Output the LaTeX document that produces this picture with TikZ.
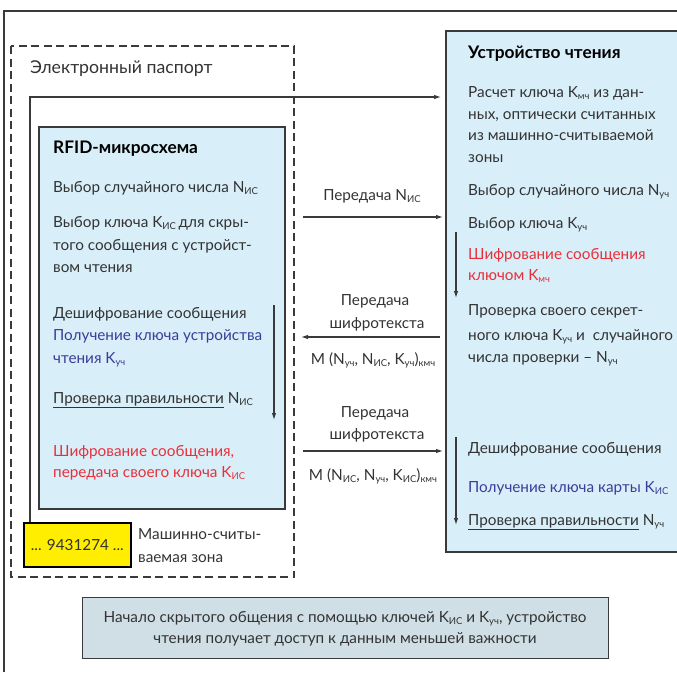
\documentclass[tikz,border=0pt]{standalone}
\usepackage{fontspec}
\setmainfont{Lato}
\usetikzlibrary{arrows.meta}
\definecolor{txt}{HTML}{333333}
\definecolor{frm}{HTML}{3A3A3A}
\definecolor{redt}{HTML}{E8303A}
\definecolor{bluet}{HTML}{3A3D9A}
\definecolor{boxblue}{HTML}{D8EEF8}
\definecolor{boxgray}{HTML}{CFDFE5}
\definecolor{yel}{HTML}{FFEE00}
\newcommand{\lw}[1]{\raisebox{-0.3ex}{\fontsize{9.5}{9.5}\selectfont #1}}
\begin{document}
\begin{tikzpicture}[x=1pt,y=-1pt,
  font=\fontsize{15.3}{17}\selectfont,
  lbl/.style={anchor=base west, inner sep=0pt, text=txt},
  ctr/.style={anchor=base, inner sep=0pt, text=txt},
  ttl/.style={anchor=base west, inner sep=0pt, text=black, font=\fontsize{17.3}{19}\selectfont\bfseries},
  arr/.style={-{Latex[length=7pt,width=4.5pt]}, line width=1.1pt, draw=frm},
  panel/.style={draw=frm, line width=1.4pt}]
\useasboundingbox (0,0) rectangle (677,672);
% outer frame lines
\coordinate (fa) at (4,672);
\coordinate (fb) at (4,11);
\coordinate (fc) at (677,11);
\draw[frm, line width=1.3pt] (fa) -- (fb) -- (fc);
% dashed passport
\draw[frm, line width=2.6pt, dash pattern=on 8pt off 4.5pt] (11,46) rectangle (294,577);
\node[lbl, font=\fontsize{17.7}{19}\selectfont] (pass) at (30,73) {Электронный паспорт};
% RFID box
\draw[panel, fill=boxblue] (39,127) rectangle (285,509);
% reader box
\draw[panel, fill=boxblue] (446,31) rectangle (690,552);
% yellow MRZ
\node[draw=black, line width=1.6pt, fill=yel, minimum width=107pt, minimum height=44pt, anchor=north west, inner sep=0pt, text=txt] (mrz) at (23,522) {\raisebox{-1pt}{... 9431274 ...}};
\node[lbl] (mrzl1) at (138,539) {Машинно-считы-};
\node[lbl] (mrzl2) at (138,562) {ваемая зона};
% long optical arrow
\coordinate (optA) at (30,522);
\coordinate (optB) at (441,97);
\draw[arr] (optA) |- (optB);
% RFID texts
\node[ttl] (rt) at (53,153) {RFID-микросхема};
\node[lbl] (r1) at (53,192) {Выбор случайного числа N\lw{ИС}};
\node[lbl] (r2) at (53,227) {Выбор ключа K\lw{ИС}\,для скры-};
\node[lbl] (r3) at (53,250) {того сообщения с устройст-};
\node[lbl] (r4) at (53,272) {вом чтения};
\node[lbl] (r5) at (53,318) {Дешифрование сообщения};
\node[lbl, text=bluet] (r6) at (53,340) {Получение ключа устройства};
\node[lbl, text=bluet] (r7) at (53,363) {чтения K\lw{уч}};
\node[lbl] (r8) at (53,403) {\underline{Проверка правильности} N\lw{ИС}};
\node[lbl, text=redt] (r9) at (53,456) {Шифрование сообщения,};
\node[lbl, text=redt] (r10) at (53,477) {передача своего ключа K\lw{ИС}};
% reader texts
\node[ttl] (dt) at (468,58) {Устройство чтения};
\node[lbl] (d1) at (468,97) {Расчет ключа K\lw{мч} из дан-};
\node[lbl] (d2) at (468,119) {ных, оптически считанных};
\node[lbl] (d3) at (468,140) {из машинно-считываемой};
\node[lbl] (d4) at (468,162) {зоны};
\node[lbl] (d5) at (468,195) {Выбор случайного числа N\lw{уч}};
\node[lbl] (d6) at (468,228) {Выбор ключа K\lw{уч}};
\node[lbl, text=redt] (d7) at (468,259) {Шифрование сообщения};
\node[lbl, text=redt] (d8) at (468,280) {ключом K\lw{мч}};
\node[lbl] (d9) at (468,315) {Проверка своего секрет-};
\node[lbl] (d10) at (468,340) {ного ключа K\lw{уч} и\ \ случайного};
\node[lbl] (d11) at (468,362) {числа проверки – N\lw{уч}};
\node[lbl] (d12) at (468,453) {Дешифрование сообщения};
\node[lbl, text=bluet] (d13) at (468,492) {Получение ключа карты K\lw{ИС}};
\node[lbl] (d14) at (468,525) {\underline{Проверка правильности} N\lw{уч}};
% transfer labels
\node[ctr] (m1) at (372,200) {Передача N\lw{ИС}};
\node[ctr] (m2a) at (375,305) {Передача};
\node[ctr] (m2b) at (377,328) {шифротекста};
\node[ctr] (m2c) at (373,364) {M (N\lw{уч}, N\lw{ИС}, K\lw{уч})\lw{кмч}};
\node[ctr] (m3a) at (375,417) {Передача};
\node[ctr] (m3b) at (377,439) {шифротекста};
\node[ctr] (m3c) at (373,480) {M (N\lw{ИС}, N\lw{уч}, K\lw{ИС})\lw{кмч}};
% horizontal arrows
\coordinate (h1s) at (303,217); \coordinate (h1e) at (443,217);
\coordinate (h2s) at (440,337); \coordinate (h2e) at (301,337);
\coordinate (h3s) at (303,451); \coordinate (h3e) at (443,451);
\draw[arr] (h1s) -- (h1e);
\draw[arr] (h2s) -- (h2e);
\draw[arr] (h3s) -- (h3e);
% vertical arrows
\coordinate (v1s) at (274,305); \coordinate (v1e) at (274,420);
\coordinate (v2s) at (456,232); \coordinate (v2e) at (456,298);
\coordinate (v3s) at (456,437); \coordinate (v3e) at (456,525);
\draw[arr] (v1s) -- (v1e);
\draw[arr] (v2s) -- (v2e);
\draw[arr] (v3s) -- (v3e);
% bottom box
\node[draw=frm, line width=1.4pt, fill=boxgray, minimum width=526pt, minimum height=61pt, anchor=north west, inner sep=0pt] (bot) at (82,597) {};
\node[ctr] (b1) at (345,622) {Начало скрытого общения с помощью ключей K\lw{ИС} и K\lw{уч}, устройство};
\node[ctr] (b2) at (345,643) {чтения получает доступ к данным меньшей важности};
\end{tikzpicture}
\end{document}
